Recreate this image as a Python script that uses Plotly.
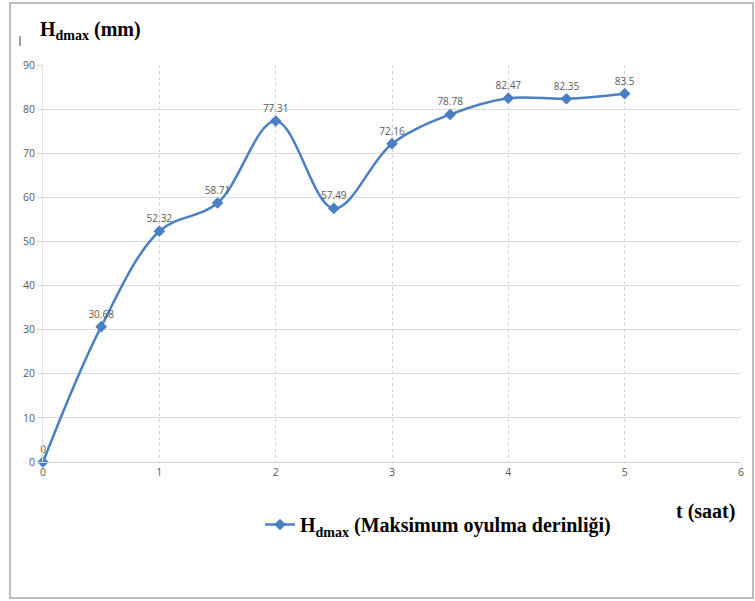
import plotly.graph_objects as go

t = [0, 0.5, 1, 1.5, 2, 2.5, 3, 3.5, 4, 4.5, 5]
hdmax = [0, 30.68, 52.32, 58.71, 77.31, 57.49, 72.16, 78.78, 82.47, 82.35, 83.5]
labels = ["0", "30.68", "52.32", "58.71", "77.31", "57.49", "72.16", "78.78", "82.47", "82.35", "83.5"]
x_ticks = [0, 1, 2, 3, 4, 5, 6]
y_ticks = [0, 10, 20, 30, 40, 50, 60, 70, 80, 90]

W, H = 755, 601
L, R, T, B = 43, 14, 65, 139
pw, ph = W - L - R, H - T - B

def px(xp):
    return (xp - L) / pw

def py(yp):
    return (H - B - yp) / ph

line_col = "#4A7FC4"
fig = go.Figure()
fig.add_trace(go.Scatter(
    x=t, y=hdmax, mode="lines+markers+text",
    text=labels, textposition="top center",
    textfont=dict(family="Open Sans, Arial", size=10, color="#595959"),
    line=dict(color=line_col, width=2.5, shape="spline", smoothing=1.0),
    marker=dict(symbol="diamond", size=9, color=line_col),
    name="<b>H<sub>dmax</sub> (Maksimum oyulma derinliği)</b>",
    cliponaxis=False,
))

fig.update_layout(
    width=W, height=H,
    margin=dict(l=L, r=R, t=T, b=B),
    paper_bgcolor="white", plot_bgcolor="white",
    showlegend=True,
    legend=dict(x=px(260), y=py(505), xanchor="left", yanchor="top",
                font=dict(family="Liberation Serif, Times New Roman", size=20, color="black"),
                bgcolor="rgba(0,0,0,0)", itemwidth=30),
    xaxis=dict(range=[0, 6], tickvals=x_ticks, showgrid=True, gridcolor="#D0D0D0",
               griddash="dot", gridwidth=1, zeroline=False, showline=True, linecolor="#D0D0D0",
               tickfont=dict(family="Open Sans, Arial", size=10.5, color="#595959"),
               ticks="", ticklen=4),
    yaxis=dict(range=[0, 90], tickvals=y_ticks, showgrid=True, gridcolor="#D9D9D9",
               gridwidth=1, zeroline=False, showline=True, linecolor="#E0E0E0",
               tickfont=dict(family="Open Sans, Arial", size=10.5, color="#595959"),
               ticks="outside", ticklen=5, tickcolor="#D9D9D9"),
    font=dict(family="Liberation Serif"),
)

fig.add_annotation(xref="paper", yref="paper", x=px(38), y=py(31), xanchor="left", yanchor="middle",
                   text="<b>H<sub>dmax</sub> (mm)</b>", showarrow=False,
                   font=dict(family="Liberation Serif, Times New Roman", size=20, color="black"))
fig.add_annotation(xref="paper", yref="paper", x=px(737), y=py(511), xanchor="right", yanchor="middle",
                   text="<b>t (saat)</b>", showarrow=False,
                   font=dict(family="Liberation Serif, Times New Roman", size=20, color="black"))

# outer border
fig.add_shape(type="rect", xref="paper", yref="paper",
              x0=px(10), x1=px(753), y0=py(598), y1=py(3),
              line=dict(color="#A6A6A6", width=1.5), layer="below")
# small mark near title
fig.add_shape(type="line", xref="paper", yref="paper",
              x0=px(20), x1=px(20), y0=py(36), y1=py(46),
              line=dict(color="#404040", width=1))

fig.write_html("out.html")
